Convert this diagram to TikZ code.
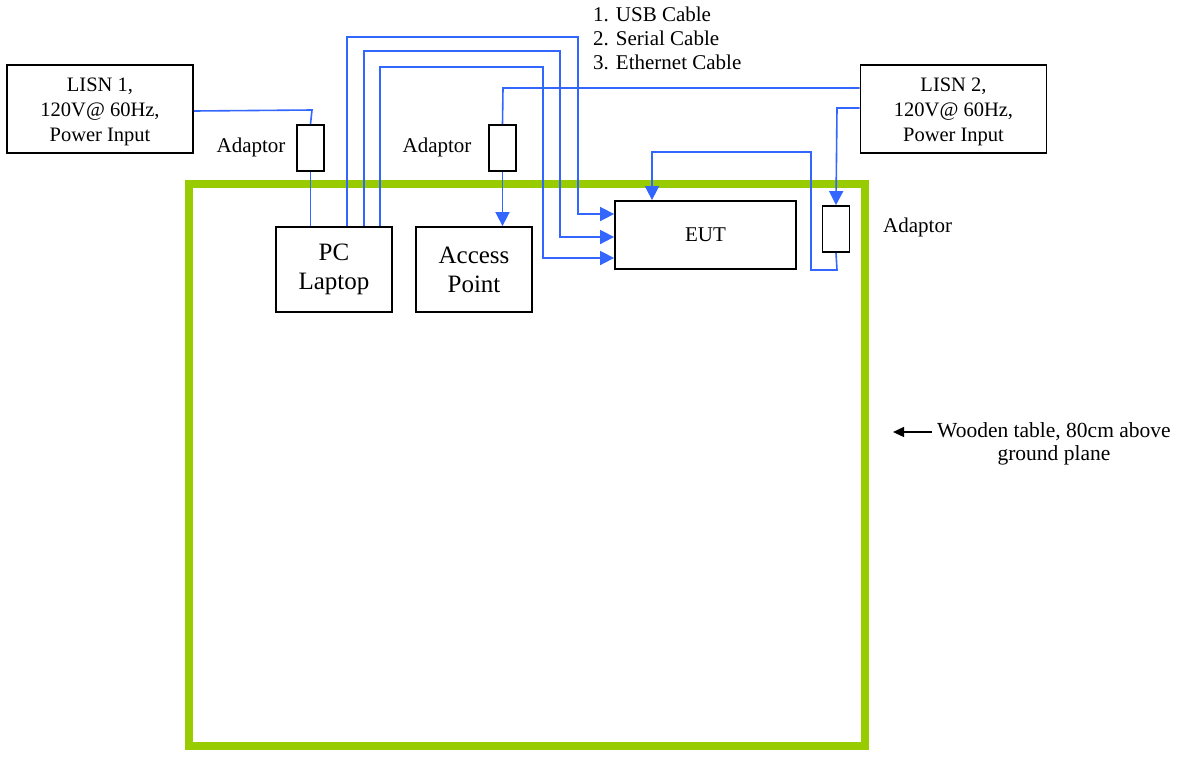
\documentclass[tikz,border=0pt]{standalone}
\usepackage{fontspec}
\setmainfont{Liberation Serif}
\usetikzlibrary{arrows.meta}
\definecolor{cable}{HTML}{3366FF}
\definecolor{tablegreen}{HTML}{99CC00}
\tikzset{
  box/.style={draw=black, line width=1.8pt, inner sep=0pt, align=center},
  adapt/.style={draw=black, line width=1.8pt, inner sep=0pt, minimum width=27pt, minimum height=46pt},
  wire/.style={draw=cable, line width=1.6pt},
  wirearrow/.style={wire, -{Triangle[length=14pt,width=14pt]}},
  lbl/.style={inner sep=0pt, font=\fontsize{21}{25}\selectfont},
}
\begin{document}
\begin{tikzpicture}[x=1pt,y=-1pt]
\useasboundingbox (0,0) rectangle (1185,761);
% table
\draw[tablegreen, line width=8pt] (188.5,184) rectangle (865,746);
% boxes
\node[box, minimum width=186pt, minimum height=88pt] (lisn1) at (100,109) {};
\node[inner sep=0pt, align=center, font=\fontsize{20.5}{25}\selectfont] (lisn1t) at (100,111.5) {LISN 1,\\120V@ 60Hz,\\Power Input};
\node[box, minimum width=186pt, minimum height=88pt] (lisn2) at (953.5,109) {};
\node[inner sep=0pt, align=center, font=\fontsize{20.5}{25}\selectfont] (lisn2t) at (953.5,111.5) {LISN 2,\\120V@ 60Hz,\\Power Input};
\node[adapt] (ad1) at (310.5,148) {};
\node[adapt] (ad2) at (502.5,148) {};
\node[adapt] (ad3) at (836,229) {};
\node[box, minimum width=116pt, minimum height=85pt, font=\fontsize{25}{29}\selectfont] (pc) at (334,269.5) {PC\\Laptop};
\node[box, minimum width=116pt, minimum height=85pt, font=\fontsize{25}{29}\selectfont] (ap) at (474,269.5) {Access\\Point};
\node[box, minimum width=181pt, minimum height=68pt, font=\fontsize{21}{25}\selectfont] (eut) at (705.5,235) {EUT};
% labels
\node[lbl] (l1) at (251,147) {Adaptor};
\node[lbl] (l2) at (437,147) {Adaptor};
\node[lbl, anchor=west] (l3) at (883,227) {Adaptor};
\node[lbl, anchor=west, align=left, font=\fontsize{21}{24}\selectfont] (legend) at (593,38) {1. USB Cable\\2. Serial Cable\\3. Ethernet Cable};
\node[inner sep=0pt, anchor=west, align=center, font=\fontsize{21.5}{23}\selectfont] (wood) at (937,443.5) {Wooden table, 80cm above\\ground plane};
\coordinate (woodtip) at (893,432);
\draw[line width=1.3pt, -{Triangle[length=11pt,width=10pt]}] (932,432) -- (woodtip);
% power wires
\draw[wire] (lisn1.east |- 0,111) -- (312,110) -- (ad1.north);
\draw[wire] (ad1.south) -- (pc.north -| ad1.south);
\draw[wire] (lisn2.west |- 0,88) -- (503,88) -- (ad2.north);
\draw[wirearrow] (ad2.south) -- (ap.north -| ad2.south);
\draw[wirearrow] (lisn2.west |- 0,108) -- (837,108) -- (ad3.north);
\draw[wirearrow] (ad3.south) -- (837,270) -- (811,270) -- (811,152) -- (652,152) -- (eut.north -| 652,0);
% data cables
\draw[wirearrow] (pc.north -| 347,0) -- (347,37) -- (578,37) -- (578,214) -- (eut.west |- 0,214);
\draw[wirearrow] (pc.north -| 364,0) -- (364,51) -- (560,51) -- (560,237) -- (eut.west |- 0,237);
\draw[wirearrow] (pc.north -| 380,0) -- (380,67) -- (543,67) -- (543,258) -- (eut.west |- 0,258);
\end{tikzpicture}
\end{document}
